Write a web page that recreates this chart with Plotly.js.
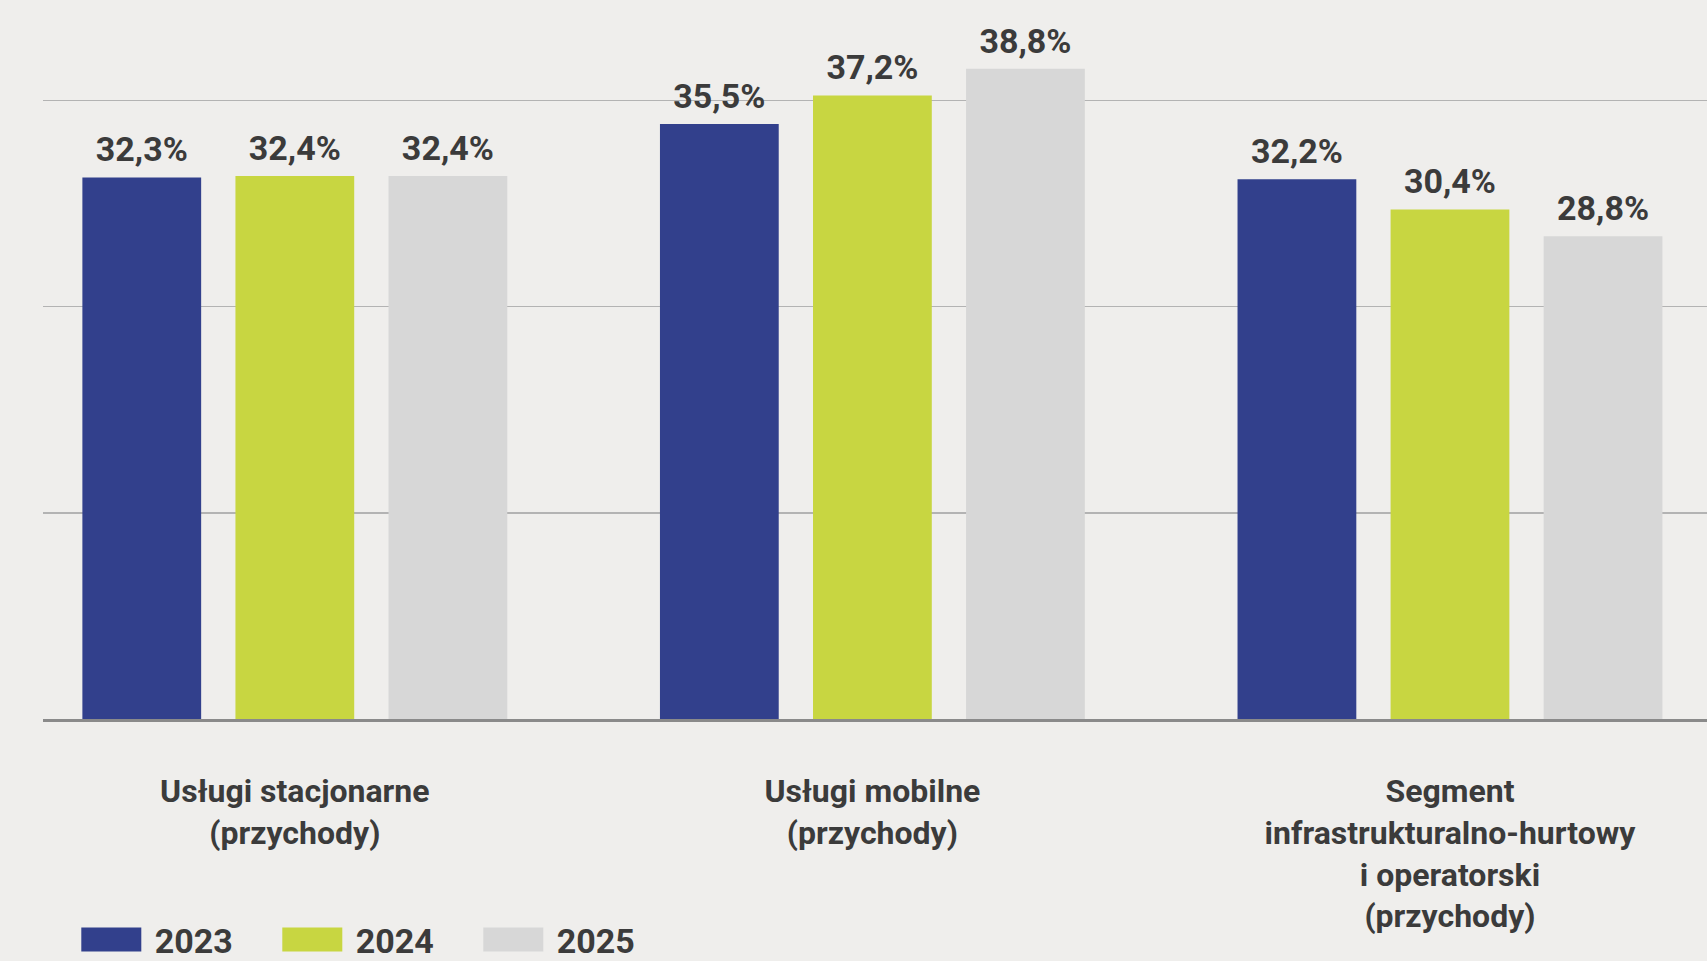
<!DOCTYPE html>
<html>
<head>
<meta charset="utf-8">
<script src="https://cdn.plot.ly/plotly-3.0.1.min.js"></script>
<style>
html,body{margin:0;padding:0;background:#efeeec;}
#chart{width:1707px;height:961px;}
.legend .legendlines path{stroke-width:24px !important;}
</style>
</head>
<body>
<div id="chart"></div>
<script>
const categories = [
  "Usługi stacjonarne<br>(przychody)",
  "Usługi mobilne<br>(przychody)",
  "Segment<br>infrastrukturalno-hurtowy<br>i operatorski<br>(przychody)"
];
const years = ["2023", "2024", "2025"];
const values2023 = [32.3, 35.5, 32.2];
const values2024 = [32.4, 37.2, 30.4];
const values2025 = [32.4, 38.8, 28.8];
const colors = ["#32408c", "#c8d641", "#d7d7d7"];

const FONT = "Roboto, 'DejaVu Sans Condensed', sans-serif";
const TXT = "#3b3b3b";
const NB = '\u00a0';
const fmt = v => '<sub>' + NB + '</sub>' + v.toFixed(1).replace('.', ',') + '%<sub>' + NB + '</sub>';

const series = [values2023, values2024, values2025];
const data = [];
series.forEach((vals, i) => {
  data.push({
    type: 'bar',
    name: years[i],
    x: categories,
    y: vals,
    marker: {color: colors[i]},
    text: vals.map(fmt),
    textposition: 'outside',
    cliponaxis: false,
    textfont: {family: FONT, size: 34, color: TXT, weight: 'bold', stretch: 'condensed'},
    showlegend: false,
    hoverinfo: 'skip'
  });
});
series.forEach((vals, i) => {
  data.push({
    type: 'scatter',
    mode: 'lines',
    name: NB + years[i],
    x: categories,
    y: [null, null, null],
    line: {color: colors[i], width: 10},
    showlegend: true,
    hoverinfo: 'skip'
  });
});

const layout = {
  width: 1707,
  height: 961,
  paper_bgcolor: '#efeeec',
  plot_bgcolor: '#efeeec',
  margin: {l: 43, r: 0, t: 15, b: 242},
  barmode: 'group',
  bargap: 0.205,
  bargroupgap: 0.224,
  xaxis: {
    type: 'category',
    range: [-0.436, 2.445],
    showline: true,
    linecolor: '#8a8a8a',
    linewidth: 3,
    ticks: '',
    showgrid: false,
    ticklabelstandoff: 42,
    tickfont: {family: FONT, size: 32, color: TXT, weight: 'bold', stretch: 'condensed'},
    fixedrange: true
  },
  yaxis: {
    range: [0, 42],
    tickvals: [12.3, 24.6, 36.9],
    showticklabels: false,
    showgrid: true,
    gridcolor: '#b3b3b3',
    gridwidth: 1.5,
    zeroline: false,
    showline: false,
    fixedrange: true
  },
  showlegend: true,
  legend: {
    orientation: 'h',
    xref: 'container',
    yref: 'container',
    x: 0.0447,
    y: 0.022,
    xanchor: 'left',
    yanchor: 'middle',
    itemwidth: 60,
    entrywidth: 126,
    bgcolor: 'rgba(0,0,0,0)',
    font: {family: FONT, size: 34, color: TXT, weight: 'bold', stretch: 'condensed'},
    traceorder: 'normal'
  }
};

Plotly.newPlot('chart', data, layout, {displayModeBar: false, staticPlot: true});
</script>
</body>
</html>
